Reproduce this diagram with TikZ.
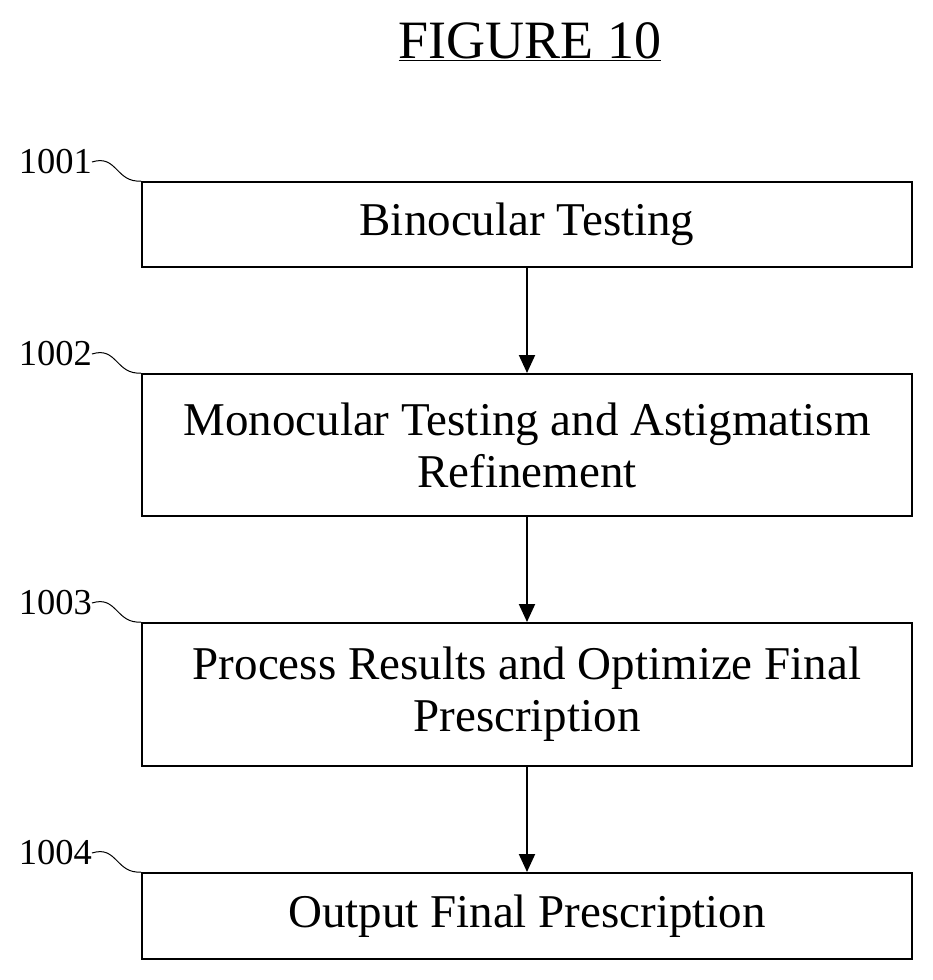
\documentclass[tikz,border=0pt]{standalone}
\usepackage{fontspec}
\setmainfont{Liberation Serif}
\usetikzlibrary{arrows.meta}
\begin{document}
\begin{tikzpicture}[x=1pt,y=-1pt,
  box/.style={draw,line width=2pt,minimum width=770pt,anchor=north west,inner sep=0pt,align=center,font=\fontsize{47}{52}\selectfont},
  lab/.style={font=\fontsize{36.5}{40}\selectfont,anchor=east,inner sep=0pt},
  arr/.style={line width=2pt,-{Triangle[length=18pt,width=16pt]}},
  lead/.style={line width=1pt}]
\useasboundingbox (0,0) rectangle (933,980);
\node[font=\fontsize{54}{60}\selectfont,inner sep=0pt] (title) at (530,42) {\underline{FIGURE 10}};
\node[box,minimum height=85pt] (b1) at (141,181) {Binocular Testing};
\node[box,minimum height=142pt] (b2) at (141,373) {Monocular Testing and Astigmatism\\Refinement};
\node[box,minimum height=143pt] (b3) at (141,622) {Process Results and Optimize Final\\Prescription};
\node[box,minimum height=86pt] (b4) at (141,872) {Output Final Prescription};
\draw[arr] (b1.south) -- (b2.north);
\draw[arr] (b2.south) -- (b3.north);
\draw[arr] (b3.south) -- (b4.north);
\node[lab] (l1) at (92,162) {1001};
\node[lab] (l2) at (92,354) {1002};
\node[lab] (l3) at (92,603) {1003};
\node[lab] (l4) at (92,853) {1004};
\foreach \l/\b in {l1/b1,l2/b2,l3/b3,l4/b4}
  \draw[lead] (\l.east) .. controls +(25,-8) and +(-25,2) .. (\b.north west);
\end{tikzpicture}
\end{document}
